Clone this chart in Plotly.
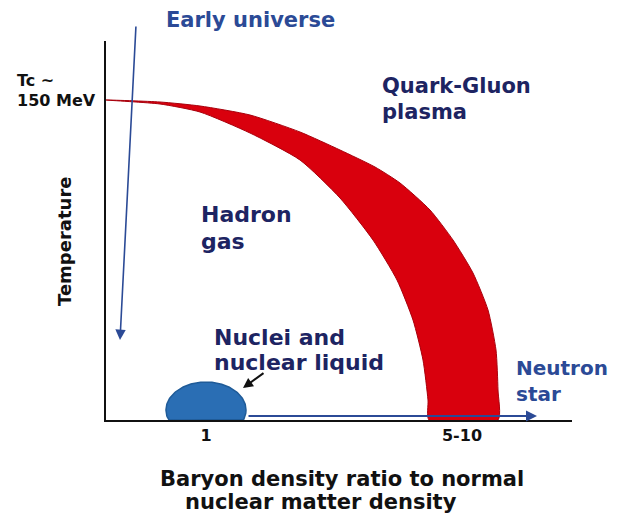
import numpy as np
import plotly.graph_objects as go

# ---------------- data (schematic units) ----------------
# phase boundary band (outer = high-T / high-density side, inner = hadron side)
band_outer_x = [0.00, 0.54, 0.94, 1.44, 1.94, 2.34, 2.69, 2.94, 3.24, 3.47, 3.67, 3.82, 3.90, 3.92, 3.92]
band_outer_y = [3.20, 3.18, 3.14, 3.05, 2.88, 2.70, 2.53, 2.37, 2.10, 1.80, 1.47, 1.10, 0.70, 0.30, 0.00]
band_inner_x = [0.00, 0.54, 0.94, 1.44, 1.94, 2.34, 2.67, 2.91, 3.07, 3.17, 3.22, 3.23]
band_inner_y = [3.20, 3.16, 3.08, 2.87, 2.60, 2.22, 1.80, 1.40, 1.00, 0.60, 0.20, 0.00]

# nuclear liquid blob
nuclear_center = [1.0, 0.10]
nuclear_radii = [0.40, 0.28]

# x-axis tick labels
tick_vals = [1.0, 3.56]
tick_text = ["1", "5-10"]

Tc_level = 3.20

X_RANGE = [0, 4.66]
Y_RANGE = [0, 3.79]

NAVY = "#1d2462"
BLUE = "#2b4a96"
RED = "#d9000d"
FONT = "DejaVu Sans"

fig = go.Figure()

# red transition band
bx = band_outer_x + band_inner_x[::-1]
by = band_outer_y + band_inner_y[::-1]
fig.add_trace(go.Scatter(x=bx, y=by, mode="lines", fill="toself",
                         fillcolor=RED, line=dict(color="#a8000c", width=1, shape="spline", smoothing=0.6),
                         hoverinfo="skip", showlegend=False))

# nuclear liquid blob
t = np.linspace(0, 2 * np.pi, 200)
ex = nuclear_center[0] + nuclear_radii[0] * np.cos(t)
ey = np.maximum(nuclear_center[1] + nuclear_radii[1] * np.sin(t), 0)
fig.add_trace(go.Scatter(x=ex, y=ey, mode="lines", fill="toself",
                         fillcolor="#2a6eb4", line=dict(color="#1f5b98", width=1.5),
                         hoverinfo="skip", showlegend=False))

ann = []

def px(x):
    return (x - X_RANGE[0]) / (X_RANGE[1] - X_RANGE[0])

def py(y):
    return (y - Y_RANGE[0]) / (Y_RANGE[1] - Y_RANGE[0])

def txt(x, y, s, size, color, xanchor="left", yanchor="middle", angle=0):
    ann.append(dict(x=px(x), y=py(y), xref="paper", yref="paper", text="<b>" + s + "</b>",
                    showarrow=False, xanchor=xanchor, yanchor=yanchor, textangle=angle,
                    font=dict(family=FONT, size=size, color=color)))

# arrows
ann.append(dict(x=0.14, y=0.80, ax=0.30, ay=3.95, xref="x", yref="y", axref="x", ayref="y",
                showarrow=True, arrowhead=2, arrowsize=1.3, arrowwidth=1.6, arrowcolor=BLUE, text=""))
ann.append(dict(x=4.31, y=0.04, ax=1.41, ay=0.04, xref="x", yref="y", axref="x", ayref="y",
                showarrow=True, arrowhead=2, arrowsize=1.1, arrowwidth=2, arrowcolor=BLUE, text=""))
ann.append(dict(x=1.37, y=0.32, ax=1.59, ay=0.48, xref="x", yref="y", axref="x", ayref="y",
                showarrow=True, arrowhead=2, arrowsize=1.0, arrowwidth=2, arrowcolor="#111111", text=""))

# labels
txt(0.58, 4.00, "Early universe", 21, BLUE)
txt(-0.91, 3.39, "Tc ~", 16, "#111111")
txt(-0.91, Tc_level, "150 MeV", 16, "#111111")
txt(2.74, 3.335, "Quark-Gluon", 21, NAVY)
txt(2.74, 3.08, "plasma", 21, NAVY)
txt(0.93, 2.06, "Hadron", 22, NAVY)
txt(0.93, 1.79, "gas", 22, NAVY)
txt(1.06, 0.83, "Nuclei and", 22, NAVY)
txt(1.06, 0.58, "nuclear liquid", 22, NAVY)
txt(4.08, 0.52, "Neutron", 20, BLUE)
txt(4.08, 0.26, "star", 20, BLUE)
txt(-0.42, 1.78, "Temperature", 18, "#111111", xanchor="center", angle=-90)
txt(0.52, -0.59, "Baryon density ratio to normal", 21, "#111111")
txt(0.77, -0.82, "nuclear matter density", 21, "#111111")

# the page body has an 8px margin; size the figure so the plot lands in place
fig.update_layout(
    width=603, height=505,
    margin=dict(l=98, r=39, t=33, b=93),
    paper_bgcolor="white", plot_bgcolor="white",
    showlegend=False,
    annotations=ann,
    xaxis=dict(range=X_RANGE, showgrid=False, zeroline=False, showline=True,
               linecolor="#111111", linewidth=2, ticks="",
               tickvals=tick_vals, ticktext=["<b>" + s + "</b>" for s in tick_text],
               tickfont=dict(family=FONT, size=16, color="#111111"), fixedrange=True),
    yaxis=dict(range=Y_RANGE, showgrid=False, zeroline=False, showline=True,
               linecolor="#111111", linewidth=2, ticks="", showticklabels=False, fixedrange=True),
)

fig.write_html("out.html", config={"displayModeBar": False})
